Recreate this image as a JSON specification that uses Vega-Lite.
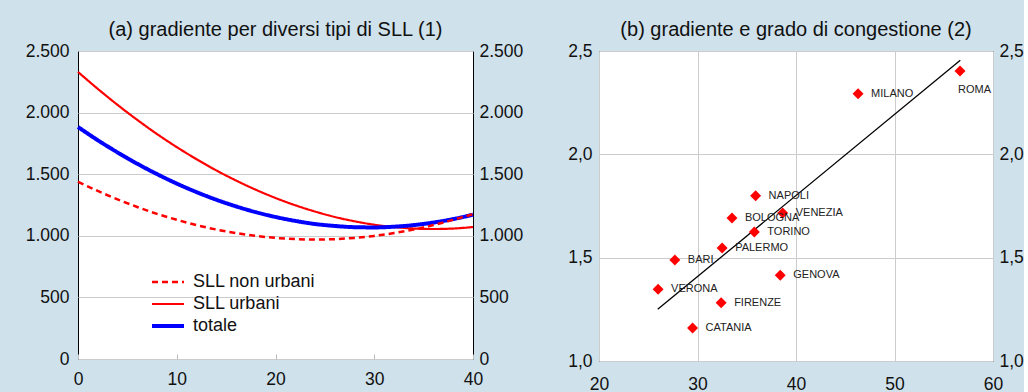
{
  "$schema": "https://vega.github.io/schema/vega-lite/v6.json",
  "background": "#cfe1eb",
  "padding": {"left": 24, "top": 19, "right": 0, "bottom": 0},
  "spacing": 43,
  "config": {
    "font": "Liberation Sans",
    "locale": {"number": {"decimal": ",", "thousands": ".", "grouping": [3], "currency": ["€", ""]}},
    "view": {"fill": "white", "stroke": "black", "strokeWidth": 1},
    "axis": {"labelFont": "Liberation Sans", "labelFontSize": 17.5, "labelColor": "#111111", "domain": false, "ticks": false, "gridColor": "#cccccc", "gridWidth": 1, "title": null, "labelFlush": false, "labelOverlap": false},
    "title": {"font": "Liberation Sans", "fontSize": 20, "fontWeight": "normal", "color": "#111111", "frame": "group", "baseline": "alphabetic", "offset": 2}
  },
  "hconcat": [
    {
      "width": 395,
      "height": 308,
      "title": "(a) gradiente per diversi tipi di SLL (1)",
      "data": {"values": [
        {"x": 0, "serie": "SLL urbani", "v": 2330}, {"x": 2, "serie": "SLL urbani", "v": 2193}, {"x": 4, "serie": "SLL urbani", "v": 2063}, {"x": 6, "serie": "SLL urbani", "v": 1941}, {"x": 8, "serie": "SLL urbani", "v": 1826}, {"x": 10, "serie": "SLL urbani", "v": 1720}, {"x": 12, "serie": "SLL urbani", "v": 1622}, {"x": 14, "serie": "SLL urbani", "v": 1531}, {"x": 16, "serie": "SLL urbani", "v": 1449}, {"x": 18, "serie": "SLL urbani", "v": 1374}, {"x": 20, "serie": "SLL urbani", "v": 1307}, {"x": 22, "serie": "SLL urbani", "v": 1248}, {"x": 24, "serie": "SLL urbani", "v": 1197}, {"x": 26, "serie": "SLL urbani", "v": 1153}, {"x": 28, "serie": "SLL urbani", "v": 1118}, {"x": 30, "serie": "SLL urbani", "v": 1090}, {"x": 32, "serie": "SLL urbani", "v": 1071}, {"x": 34, "serie": "SLL urbani", "v": 1059}, {"x": 36, "serie": "SLL urbani", "v": 1055}, {"x": 38, "serie": "SLL urbani", "v": 1059}, {"x": 40, "serie": "SLL urbani", "v": 1071},
        {"x": 0, "serie": "totale", "v": 1883}, {"x": 2, "serie": "totale", "v": 1776}, {"x": 4, "serie": "totale", "v": 1677}, {"x": 6, "serie": "totale", "v": 1585}, {"x": 8, "serie": "totale", "v": 1501}, {"x": 10, "serie": "totale", "v": 1424}, {"x": 12, "serie": "totale", "v": 1355}, {"x": 14, "serie": "totale", "v": 1293}, {"x": 16, "serie": "totale", "v": 1239}, {"x": 18, "serie": "totale", "v": 1192}, {"x": 20, "serie": "totale", "v": 1153}, {"x": 22, "serie": "totale", "v": 1121}, {"x": 24, "serie": "totale", "v": 1096}, {"x": 26, "serie": "totale", "v": 1080}, {"x": 28, "serie": "totale", "v": 1070}, {"x": 30, "serie": "totale", "v": 1068}, {"x": 32, "serie": "totale", "v": 1074}, {"x": 34, "serie": "totale", "v": 1087}, {"x": 36, "serie": "totale", "v": 1108}, {"x": 38, "serie": "totale", "v": 1136}, {"x": 40, "serie": "totale", "v": 1171},
        {"x": 0, "serie": "SLL non urbani", "v": 1439}, {"x": 2, "serie": "SLL non urbani", "v": 1364}, {"x": 4, "serie": "SLL non urbani", "v": 1296}, {"x": 6, "serie": "SLL non urbani", "v": 1234}, {"x": 8, "serie": "SLL non urbani", "v": 1178}, {"x": 10, "serie": "SLL non urbani", "v": 1130}, {"x": 12, "serie": "SLL non urbani", "v": 1087}, {"x": 14, "serie": "SLL non urbani", "v": 1051}, {"x": 16, "serie": "SLL non urbani", "v": 1022}, {"x": 18, "serie": "SLL non urbani", "v": 999}, {"x": 20, "serie": "SLL non urbani", "v": 983}, {"x": 22, "serie": "SLL non urbani", "v": 973}, {"x": 24, "serie": "SLL non urbani", "v": 970}, {"x": 26, "serie": "SLL non urbani", "v": 973}, {"x": 28, "serie": "SLL non urbani", "v": 983}, {"x": 30, "serie": "SLL non urbani", "v": 999}, {"x": 32, "serie": "SLL non urbani", "v": 1022}, {"x": 34, "serie": "SLL non urbani", "v": 1051}, {"x": 36, "serie": "SLL non urbani", "v": 1087}, {"x": 38, "serie": "SLL non urbani", "v": 1130}, {"x": 40, "serie": "SLL non urbani", "v": 1175}
      ]},
      "layer": [
        {
          "mark": {"type": "line", "interpolate": "monotone"},
          "encoding": {
            "x": {"field": "x", "type": "quantitative", "scale": {"domain": [0, 40], "nice": false}, "axis": {"values": [0, 10, 20, 30, 40], "grid": false, "ticks": true, "tickSize": -5, "tickColor": "#bbbbbb", "labelPadding": 16}},
            "y": {"field": "v", "type": "quantitative", "scale": {"domain": [0, 2500], "nice": false}, "axis": {"orient": "left", "values": [0, 500, 1000, 1500, 2000, 2500], "format": ",d", "grid": true, "labelPadding": 9}},
            "color": {"field": "serie", "type": "nominal", "scale": {"domain": ["SLL non urbani", "SLL urbani", "totale"], "range": ["#ff0000", "#ff0000", "#0000ff"]},
              "legend": {"orient": "none", "legendX": 72, "legendY": 220, "title": null, "symbolType": "stroke", "symbolSize": 1024, "labelFontSize": 18, "labelFont": "Liberation Sans", "labelColor": "#111111", "rowPadding": 0, "clipHeight": 22, "labelOffset": 7, "padding": 0}},
            "strokeDash": {"field": "serie", "type": "nominal", "scale": {"domain": ["SLL non urbani", "SLL urbani", "totale"], "range": [[6, 4], [1, 0], [1, 0]]},
              "legend": {"orient": "none", "legendX": 72, "legendY": 220, "title": null, "symbolType": "stroke", "symbolSize": 1024, "labelFontSize": 18, "labelFont": "Liberation Sans", "labelColor": "#111111", "rowPadding": 0, "clipHeight": 22, "labelOffset": 7, "padding": 0}},
            "strokeWidth": {"field": "serie", "type": "nominal", "scale": {"type": "ordinal", "domain": ["SLL non urbani", "SLL urbani", "totale"], "range": [2.5, 2.2, 4]},
              "legend": {"orient": "none", "legendX": 72, "legendY": 220, "title": null, "symbolType": "stroke", "symbolSize": 1024, "labelFontSize": 18, "labelFont": "Liberation Sans", "labelColor": "#111111", "rowPadding": 0, "clipHeight": 22, "labelOffset": 7, "padding": 0}}
          }
        },
        {
          "mark": {"type": "line", "opacity": 0},
          "encoding": {
            "x": {"field": "x", "type": "quantitative", "scale": {"domain": [0, 40], "nice": false}},
            "y": {"field": "v", "type": "quantitative", "scale": {"domain": [0, 2500], "nice": false}, "axis": {"orient": "right", "values": [0, 500, 1000, 1500, 2000, 2500], "format": ",d", "grid": false, "labelPadding": 6}}
          }
        }
      ],
      "resolve": {"scale": {"y": "independent"}}
    },
    {
      "width": 394,
      "height": 310,
      "title": "(b) gradiente e grado di congestione (2)",
      "data": {"values": [
        {"city": "MILANO", "cong": 46.3, "grad": 2.293},
        {"city": "ROMA", "cong": 56.65, "grad": 2.403},
        {"city": "NAPOLI", "cong": 35.9, "grad": 1.8},
        {"city": "VENEZIA", "cong": 38.65, "grad": 1.716},
        {"city": "BOLOGNA", "cong": 33.5, "grad": 1.692},
        {"city": "TORINO", "cong": 35.77, "grad": 1.624},
        {"city": "PALERMO", "cong": 32.5, "grad": 1.547},
        {"city": "BARI", "cong": 27.7, "grad": 1.489},
        {"city": "GENOVA", "cong": 38.4, "grad": 1.415},
        {"city": "VERONA", "cong": 26.0, "grad": 1.347},
        {"city": "FIRENZE", "cong": 32.4, "grad": 1.282},
        {"city": "CATANIA", "cong": 29.5, "grad": 1.16}
      ]},
      "layer": [
        {
          "data": {"values": [{"cong": 25.96, "grad": 1.25}, {"cong": 56.68, "grad": 2.455}]},
          "mark": {"type": "line", "color": "black", "strokeWidth": 1.3},
          "encoding": {
            "x": {"field": "cong", "type": "quantitative", "scale": {"domain": [20, 60], "nice": false}, "axis": {"values": [20, 30, 40, 50, 60], "grid": true, "labelPadding": 14}},
            "y": {"field": "grad", "type": "quantitative", "scale": {"domain": [1, 2.5], "nice": false}, "axis": {"orient": "left", "values": [1, 1.5, 2, 2.5], "format": ".1f", "grid": true, "labelPadding": 7}}
          }
        },
        {
          "mark": {"type": "point", "shape": "diamond", "filled": true, "color": "#ff0000", "size": 120, "opacity": 1},
          "encoding": {
            "x": {"field": "cong", "type": "quantitative", "scale": {"domain": [20, 60], "nice": false}},
            "y": {"field": "grad", "type": "quantitative", "scale": {"domain": [1, 2.5], "nice": false}, "axis": null}
          }
        },
        {
          "transform": [{"filter": "datum.city != 'ROMA'"}],
          "mark": {"type": "text", "align": "left", "baseline": "middle", "dx": 13, "fontSize": 11, "font": "Liberation Sans", "color": "#222222"},
          "encoding": {
            "x": {"field": "cong", "type": "quantitative", "scale": {"domain": [20, 60], "nice": false}},
            "y": {"field": "grad", "type": "quantitative", "scale": {"domain": [1, 2.5], "nice": false}, "axis": null},
            "text": {"field": "city"}
          }
        },
        {
          "transform": [{"filter": "datum.city == 'ROMA'"}],
          "mark": {"type": "text", "align": "left", "baseline": "middle", "dx": -2, "dy": 19, "fontSize": 11, "font": "Liberation Sans", "color": "#222222"},
          "encoding": {
            "x": {"field": "cong", "type": "quantitative", "scale": {"domain": [20, 60], "nice": false}},
            "y": {"field": "grad", "type": "quantitative", "scale": {"domain": [1, 2.5], "nice": false}, "axis": null},
            "text": {"field": "city"}
          }
        },
        {
          "mark": {"type": "point", "opacity": 0},
          "encoding": {
            "x": {"field": "cong", "type": "quantitative", "scale": {"domain": [20, 60], "nice": false}},
            "y": {"field": "grad", "type": "quantitative", "scale": {"domain": [1, 2.5], "nice": false}, "axis": {"orient": "right", "values": [1, 1.5, 2, 2.5], "format": ".1f", "grid": false, "labelPadding": 6}}
          }
        }
      ],
      "resolve": {"scale": {"y": "independent"}}
    }
  ]
}
